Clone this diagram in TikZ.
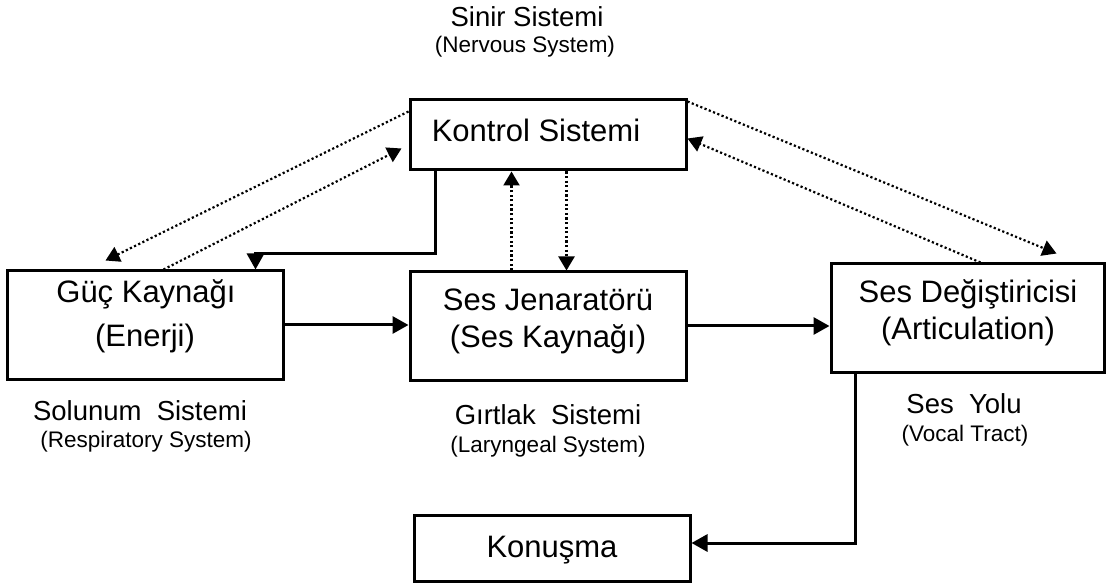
\documentclass[tikz,border=0pt]{standalone}
\usepackage{fontspec}
\setmainfont{Liberation Sans}
\usetikzlibrary{arrows.meta}
\tikzset{
  x=1pt, y=-1pt,
  boxnode/.style={draw, line width=3pt, rectangle, inner sep=0pt},
  bigtxt/.style={anchor=base, inner sep=0pt, font=\fontsize{31}{37}\selectfont},
  midtxt/.style={anchor=base, inner sep=0pt, font=\fontsize{27.5}{33}\selectfont},
  smalltxt/.style={anchor=base, inner sep=0pt, font=\fontsize{22.5}{27}\selectfont},
  solidarrow/.style={line width=3pt, -{Triangle[length=16pt,width=17pt]}},
  dotarrow/.style={line width=2.2pt, dash pattern=on 2.2pt off 2.4pt, -{Triangle[length=14pt,width=16pt]}}
}
\begin{document}
\begin{tikzpicture}
\useasboundingbox (0,0) rectangle (1106,585);
% boxes
\node[boxnode, minimum width=276pt, minimum height=70pt] (ctrl) at (548,135) {};
\node[boxnode, minimum width=276pt, minimum height=108pt] (guc) at (145,325) {};
\node[boxnode, minimum width=276pt, minimum height=108pt] (jen) at (548,326) {};
\node[boxnode, minimum width=273pt, minimum height=108pt] (deg) at (967.5,318) {};
\node[boxnode, minimum width=276pt, minimum height=66pt] (kon) at (552,548) {};
% box texts
\node[bigtxt] (tctrl) at (536,142) {Kontrol Sistemi};
\node[bigtxt] (tguc1) at (146,303) {Güç Kaynağı};
\node[bigtxt] (tguc2) at (145,347) {(Enerji)};
\node[bigtxt] (tjen1) at (548,311) {Ses Jenaratörü};
\node[bigtxt] (tjen2) at (548,348) {(Ses Kaynağı)};
\node[bigtxt] (tdeg1) at (968,303) {Ses Değiştiricisi};
\node[bigtxt] (tdeg2) at (968,340) {(Articulation)};
\node[bigtxt] (tkon) at (552,557) {Konuşma};
% labels
\node[midtxt] (lsinir) at (527,27) {Sinir Sistemi};
\node[smalltxt] (lnerv) at (525,53) {(Nervous System)};
\node[midtxt] (lsol) at (140,420) {Solunum~~Sistemi};
\node[smalltxt] (lresp) at (146,447) {(Respiratory System)};
\node[midtxt] (lgir) at (548,424) {Gırtlak~~Sistemi};
\node[smalltxt] (llar) at (548,452) {(Laryngeal System)};
\node[midtxt] (lyol) at (964,413) {Ses~~Yolu};
\node[smalltxt] (lvoc) at (965,441) {(Vocal Tract)};
% solid connectors
\draw[solidarrow] (guc.east) -- (guc.east -| jen.west);
\draw[solidarrow] (jen.east) -- (jen.east -| deg.west);
\draw[solidarrow] ([xshift=27pt]ctrl.south west) -- ++(0,82) -| ([xshift=250pt]guc.north west);
\draw[solidarrow] ([xshift=26pt]deg.south west) |- ([yshift=5pt]kon.east);
% dotted connectors
\draw[dotarrow] ([xshift=103pt]jen.north west) -- ([xshift=103pt]ctrl.south west);
\draw[dotarrow] ([xshift=158pt]ctrl.south west) -- ([xshift=158pt]jen.north west);
\draw[dotarrow] ([yshift=-13pt]ctrl.north west) -- ([xshift=100pt,yshift=9pt]guc.north west);
\draw[dotarrow] ([xshift=158pt]guc.north west) -- ([xshift=-7pt,yshift=-50pt]ctrl.north west);
\draw[dotarrow] ([yshift=-3pt]ctrl.north east) -- ([xshift=227pt,yshift=9pt]deg.north west);
\draw[dotarrow] ([xshift=151pt]deg.north west) -- ([yshift=-40pt]ctrl.north east);
\end{tikzpicture}
\end{document}
